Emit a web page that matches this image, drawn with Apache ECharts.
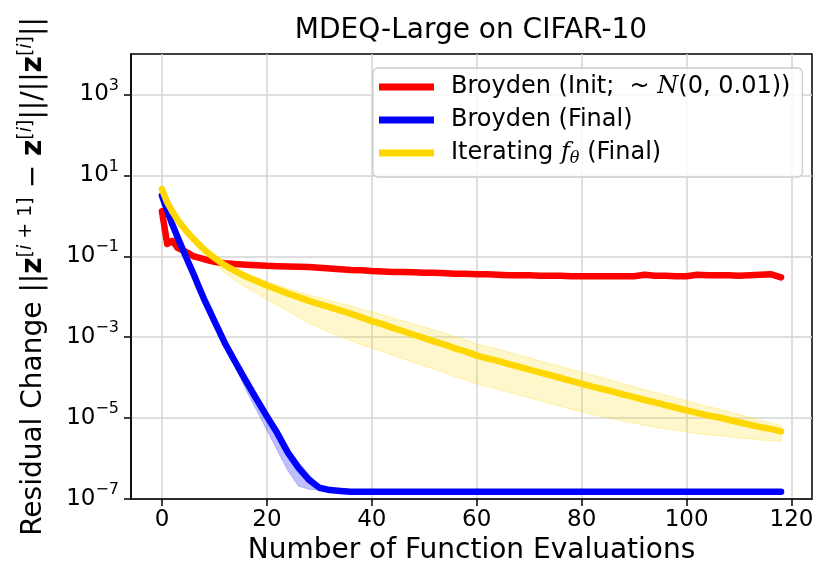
<!DOCTYPE html>
<html>
<head>
<meta charset="utf-8">
<title>MDEQ-Large on CIFAR-10</title>
<script src="https://cdn.jsdelivr.net/npm/echarts@6/dist/echarts.min.js"></script>
<style>
  html, body { margin: 0; padding: 0; background: #fff; }
  #main { width: 830px; height: 587px; }
</style>
</head>
<body>
<div id="main"></div>
<script>
// iteration index (x) shared by the three curves
var iters = [0, 1, 2, 3, 4, 5, 6, 7, 8, 9, 10,
  12, 14, 16, 18, 20, 22, 24, 26, 28, 30, 32, 34, 36, 38, 40,
  42, 44, 46, 48, 50, 52, 54, 56, 58, 60, 62, 64, 66, 68, 70,
  72, 74, 76, 78, 80, 82, 84, 86, 88, 90, 92, 94, 96, 98, 100,
  102, 104, 106, 108, 110, 112, 114, 116, 118];

// Broyden (Init)
var broydenInit = [1.3, 0.2, 0.24, 0.16, 0.14, 0.12, 0.1, 0.093, 0.085, 0.078, 0.073,
  0.067, 0.064, 0.062, 0.06, 0.058, 0.057, 0.056, 0.055, 0.054, 0.052, 0.05, 0.048, 0.046, 0.045, 0.043,
  0.042, 0.041, 0.041, 0.040, 0.039, 0.039, 0.038, 0.037, 0.037, 0.036, 0.036, 0.035, 0.034, 0.034, 0.034,
  0.033, 0.033, 0.033, 0.032, 0.032, 0.032, 0.032, 0.032, 0.032, 0.032, 0.035, 0.033, 0.033, 0.032, 0.032,
  0.035, 0.034, 0.034, 0.034, 0.033, 0.034, 0.035, 0.036, 0.030];

// Broyden (Final)
var broydenFinal = [3.16, 1.35, 0.6, 0.29, 0.145, 0.072, 0.037, 0.018, 0.0089, 0.0047, 0.0025,
  7.1e-4, 2.4e-4, 8.3e-5, 3.0e-5, 1.1e-5, 4.2e-6, 1.4e-6, 6.0e-7, 3.0e-7, 1.9e-7, 1.66e-7, 1.58e-7, 1.52e-7, 1.52e-7, 1.52e-7,
  1.52e-7, 1.52e-7, 1.52e-7, 1.52e-7, 1.52e-7, 1.52e-7, 1.52e-7, 1.52e-7, 1.52e-7, 1.52e-7, 1.52e-7, 1.52e-7, 1.52e-7, 1.52e-7, 1.52e-7,
  1.52e-7, 1.52e-7, 1.52e-7, 1.52e-7, 1.52e-7, 1.52e-7, 1.52e-7, 1.52e-7, 1.52e-7, 1.52e-7, 1.52e-7, 1.52e-7, 1.52e-7, 1.52e-7, 1.52e-7,
  1.52e-7, 1.52e-7, 1.52e-7, 1.52e-7, 1.52e-7, 1.52e-7, 1.52e-7, 1.52e-7, 1.52e-7];

// Iterating f_theta (Final): mean, upper and lower edge of the band
var iterMean = [4.57, 2.14, 1.26, 0.79, 0.54, 0.37, 0.27, 0.20, 0.148, 0.115, 0.091,
  0.060, 0.043, 0.0316, 0.0245, 0.019, 0.0151, 0.012, 0.0098, 0.0079, 0.0066, 0.0055, 0.0046, 0.0038, 0.0031, 0.0025,
  0.0021, 0.0017, 0.0014, 0.00115, 9.5e-4, 7.8e-4, 6.5e-4, 5.2e-4, 4.4e-4, 3.5e-4, 3.0e-4, 2.6e-4, 2.2e-4, 1.86e-4, 1.58e-4,
  1.35e-4, 1.15e-4, 9.8e-5, 8.3e-5, 7.1e-5, 6.0e-5, 5.2e-5, 4.5e-5, 3.8e-5, 3.3e-5, 2.8e-5, 2.45e-5, 2.1e-5, 1.8e-5, 1.55e-5,
  1.35e-5, 1.17e-5, 1.05e-5, 9.1e-6, 7.9e-6, 6.9e-6, 6.0e-6, 5.4e-6, 4.7e-6];
var iterUpper = [4.8, 2.25, 1.32, 0.83, 0.57, 0.40, 0.29, 0.214, 0.158, 0.123, 0.102,
  0.069, 0.0505, 0.038, 0.030, 0.024, 0.0195, 0.0158, 0.0132, 0.0109, 0.0095, 0.0081, 0.0069, 0.0059, 0.0049, 0.0042,
  0.0036, 0.0030, 0.0025, 0.0021, 0.00178, 0.00148, 0.00126, 0.00101, 8.6e-4, 6.8e-4, 5.8e-4, 5.1e-4, 4.3e-4, 3.6e-4, 3.1e-4,
  2.6e-4, 2.2e-4, 1.9e-4, 1.6e-4, 1.38e-4, 1.15e-4, 9.8e-5, 8.4e-5, 7.0e-5, 6.0e-5, 5.0e-5, 4.3e-5, 3.7e-5, 3.1e-5, 2.7e-5,
  2.3e-5, 1.93e-5, 1.7e-5, 1.44e-5, 1.22e-5, 1.05e-5, 8.8e-6, 7.7e-6, 6.6e-6];
var iterLower = [4.36, 2.04, 1.2, 0.75, 0.52, 0.34, 0.235, 0.167, 0.117, 0.087, 0.065,
  0.039, 0.0253, 0.017, 0.0123, 0.0087, 0.0062, 0.0044, 0.0031, 0.0022, 0.0017, 0.0013, 0.00105, 8.3e-4, 6.6e-4, 5.3e-4,
  4.5e-4, 3.55e-4, 2.9e-4, 2.4e-4, 1.94e-4, 1.6e-4, 1.33e-4, 1.04e-4, 8.8e-5, 7.0e-5, 6.0e-5, 5.2e-5, 4.4e-5, 3.7e-5, 3.2e-5,
  2.7e-5, 2.3e-5, 1.96e-5, 1.66e-5, 1.42e-5, 1.22e-5, 1.09e-5, 9.6e-6, 8.3e-6, 7.6e-6, 6.7e-6, 6.0e-6, 5.4e-6, 5.0e-6, 4.5e-6,
  4.2e-6, 3.9e-6, 3.7e-6, 3.5e-6, 3.2e-6, 3.1e-6, 2.9e-6, 2.8e-6, 2.7e-6];

// Broyden (Final) band, only visible during the descent
var bandIters = [10, 12, 14, 16, 18, 20, 22, 24, 26, 28, 30, 32, 34, 36];
var broydenUpper = [2.5e-3, 7.6e-4, 2.6e-4, 9.5e-5, 3.5e-5, 1.32e-5, 5.2e-6, 1.9e-6, 8.3e-7, 4.0e-7, 2.2e-7, 1.78e-7, 1.62e-7, 1.52e-7];
var broydenLower = [2.5e-3, 6.3e-4, 1.78e-4, 5.0e-5, 1.58e-5, 5.0e-6, 1.58e-6, 5.0e-7, 2.1e-7, 1.74e-7, 1.66e-7, 1.58e-7, 1.55e-7, 1.52e-7];

// ticks
var xTicks = [0, 20, 40, 60, 80, 100, 120];
var yTicks = [1e-7, 1e-5, 1e-3, 1e-1, 1e1, 1e3];

var seriesNames = ['Broyden (Init; ~N(0, 0.01))', 'Broyden (Final)', 'Iterating f (Final)'];

var FONT = 'DejaVu Sans';

function zip(xs, ys) {
  return xs.map(function (x, i) { return [x, ys[i]]; });
}

// shaded band between two edges, drawn as one polygon through the axes
function bandSeries(name, xs, up, lo, fill, stroke) {
  return {
    name: name,
    type: 'custom',
    silent: true,
    z: 2,
    data: zip(xs, up),
    encode: { x: 0, y: 1 },
    renderItem: function (params, api) {
      if (params.dataIndex !== 0) return null;
      var pts = [];
      for (var i = 0; i < xs.length; i++) pts.push(api.coord([xs[i], up[i]]));
      for (var j = xs.length - 1; j >= 0; j--) pts.push(api.coord([xs[j], lo[j]]));
      return {
        type: 'polygon',
        shape: { points: pts },
        style: { fill: fill, stroke: stroke, lineWidth: 1 }
      };
    }
  };
}

var legendText = {};
legendText[seriesNames[0]] = '{t|Broyden (Init;  ~ }{n|N}{t|(0, 0.01))}';
legendText[seriesNames[1]] = '{t|Broyden (Final)}';
legendText[seriesNames[2]] = '{t|Iterating }{f|f}{sub|θ}{t| (Final)}';

var chart = echarts.init(document.getElementById('main'));

chart.setOption({
  animation: false,
  backgroundColor: '#fff',
  title: {
    text: 'MDEQ-Large on CIFAR-10',
    left: 471,
    top: 17,
    padding: 0,
    textAlign: 'center',
    textStyle: { fontFamily: FONT, fontSize: 28, fontWeight: 'normal', color: '#000' }
  },
  grid: {
    left: 131, right: 18, top: 54, bottom: 88,
    show: true, borderColor: '#000', borderWidth: 1.5, backgroundColor: 'transparent'
  },
  legend: {
    data: seriesNames,
    orient: 'vertical',
    left: 373,
    top: 68,
    icon: 'rect',
    itemWidth: 55,
    itemHeight: 7,
    itemGap: 9,
    padding: [7, 12, 10, 6],
    backgroundColor: 'rgba(255,255,255,0.8)',
    borderColor: '#cccccc',
    borderWidth: 1.3,
    borderRadius: 5,
    formatter: function (name) { return legendText[name]; },
    textStyle: {
      fontFamily: FONT, fontSize: 24, color: '#000', padding: [0, 0, 0, 12],
      rich: {
        t: { fontFamily: FONT, fontSize: 24, lineHeight: 28, color: '#000' },
        n: { fontFamily: 'DejaVu Serif', fontStyle: 'italic', fontSize: 24, lineHeight: 28, color: '#000' },
        f: { fontFamily: 'DejaVu Serif', fontStyle: 'italic', fontSize: 24, lineHeight: 28, color: '#000' },
        sub: { fontFamily: 'DejaVu Serif', fontStyle: 'italic', fontSize: 16, lineHeight: 16, verticalAlign: 'bottom', color: '#000' }
      }
    }
  },
  xAxis: {
    type: 'value',
    min: -5.9,
    max: 123.9,
    splitNumber: 6,
    name: 'Number of Function Evaluations',
    nameLocation: 'middle',
    nameGap: 38,
    nameTextStyle: { fontFamily: FONT, fontSize: 28, color: '#000' },
    axisLine: { show: true, onZero: false, lineStyle: { color: '#000', width: 1.5 } },
    axisTick: { show: true, length: 7, customValues: xTicks, lineStyle: { color: '#000', width: 1.5 } },
    axisLabel: {
      customValues: xTicks, margin: 10,
      fontFamily: FONT, fontSize: 23, color: '#000'
    },
    splitLine: { show: true, lineStyle: { color: '#d4d4d4', width: 1.5 } }
  },
  yAxis: {
    type: 'log',
    logBase: 10,
    min: 1e-7,
    max: 1e4,
    interval: 2,
    name: '{t|Residual Change ||}{z|z}{s|[}{si|i}{s| + 1]}{t| − }{z|z}{s|[}{si|i}{s|]}{t|||/||}{z|z}{s|[}{si|i}{s|]}{t|||}',
    nameLocation: 'middle',
    nameGap: 80,
    nameTextStyle: {
      fontFamily: FONT, fontSize: 28, color: '#000',
      rich: {
        t: { fontFamily: FONT, fontSize: 28, lineHeight: 34, color: '#000' },
        z: { fontFamily: FONT, fontSize: 28, fontWeight: 'bold', lineHeight: 34, color: '#000' },
        s: { fontFamily: FONT, fontSize: 19, lineHeight: 19, verticalAlign: 'top', color: '#000' },
        si: { fontFamily: FONT, fontSize: 19, fontStyle: 'italic', lineHeight: 19, verticalAlign: 'top', color: '#000' }
      }
    },
    axisLine: { show: true, onZero: false, lineStyle: { color: '#000', width: 1.5 } },
    axisTick: { show: true, length: 7, customValues: yTicks, lineStyle: { color: '#000', width: 1.5 } },
    minorTick: { show: false },
    axisLabel: {
      customValues: yTicks,
      margin: 12,
      formatter: function (v) {
        var e = Math.round(Math.log10(v));
        return '{b|10}{s|' + (e < 0 ? '\u2212' + (-e) : e) + '}';
      },
      rich: {
        b: { fontFamily: FONT, fontSize: 23, lineHeight: 34, color: '#000' },
        s: { fontFamily: FONT, fontSize: 16, lineHeight: 16, verticalAlign: 'top', color: '#000' }
      }
    },
    splitLine: { show: true, lineStyle: { color: '#d4d4d4', width: 1.5 } }
  },
  series: [
    {
      name: seriesNames[0], type: 'line', symbol: 'none', z: 4,
      data: zip(iters, broydenInit),
      lineStyle: { color: '#ff0000', width: 6.5, join: 'round', cap: 'round' },
      itemStyle: { color: '#ff0000' }
    },
    bandSeries('broydenBand', bandIters, broydenUpper, broydenLower, 'rgba(0,0,255,0.25)', 'rgba(0,0,255,0.2)'),
    {
      name: seriesNames[1], type: 'line', symbol: 'none', z: 4,
      data: zip(iters, broydenFinal),
      lineStyle: { color: '#0000ff', width: 6.5, join: 'round', cap: 'round' },
      itemStyle: { color: '#0000ff' }
    },
    bandSeries('iterBand', iters, iterUpper, iterLower, 'rgba(255,215,0,0.2)', 'rgba(255,215,0,0.3)'),
    {
      name: seriesNames[2], type: 'line', symbol: 'none', z: 4,
      data: zip(iters, iterMean),
      lineStyle: { color: '#ffd700', width: 6.5, join: 'round', cap: 'round' },
      itemStyle: { color: '#ffd700' }
    }
  ]
});
</script>
</body>
</html>
